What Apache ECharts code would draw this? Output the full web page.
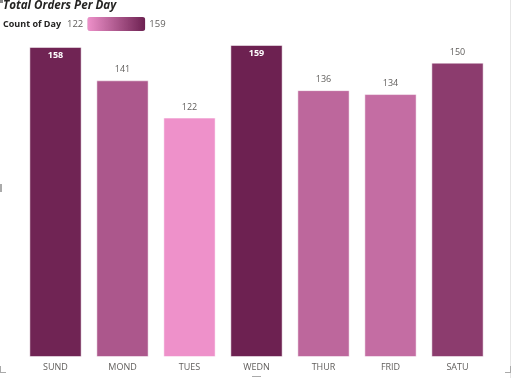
<!DOCTYPE html>
<html>
<head>
<meta charset="utf-8">
<script src="https://cdn.jsdelivr.net/npm/echarts@6/dist/echarts.min.js"></script>
<style>
  html, body { margin: 0; padding: 0; background: #fff; }
  #main { width: 515px; height: 378px; }
</style>
</head>
<body>
<div id="main"></div>
<script>
const days = ["SUND", "MOND", "TUES", "WEDN", "THUR", "FRID", "SATU"];
const counts = [158, 141, 122, 159, 136, 134, 150];
const colorRange = ["#EE91CA", "#6D2151"];

let mychart = echarts.init(document.getElementById("main"));
let minVal = Math.min(...counts);
let maxVal = Math.max(...counts);

let option = {
  animation: false,
  title: {
    text: "Total Orders Per Day",
    left: 3,
    top: 0,
    padding: 0,
    textStyle: {
      fontSize: 11.6,
      fontWeight: "bold",
      fontStyle: "italic",
      color: "#252423",
      fontFamily: "Open Sans"
    }
  },
  graphic: [
    {
      type: "text",
      left: 3,
      top: 20,
      style: {
        text: "Count of Day",
        font: "bold 9px 'Open Sans'",
        fill: "#252423"
      }
    },
    { type: "rect", shape: { x: 510, y: 0, width: 1, height: 378 }, style: { fill: "#e6e6e6" } },
    { type: "rect", shape: { x: 0, y: 0, width: 3, height: 3 }, style: { fill: "#888" } },
    { type: "rect", shape: { x: 0, y: 184, width: 2, height: 8 }, style: { fill: "#aaa" } },
    { type: "rect", shape: { x: 0, y: 372, width: 6, height: 1 }, style: { fill: "#aaa" } },
    { type: "rect", shape: { x: 0, y: 366, width: 1, height: 7 }, style: { fill: "#aaa" } },
    { type: "rect", shape: { x: 252, y: 376, width: 9, height: 1 }, style: { fill: "#aaa" } },
    { type: "rect", shape: { x: 505, y: 372, width: 6, height: 1 }, style: { fill: "#aaa" } },
    { type: "rect", shape: { x: 510, y: 366, width: 1, height: 7 }, style: { fill: "#aaa" } }
  ],
  visualMap: {
    type: "continuous",
    min: minVal,
    max: maxVal,
    orient: "horizontal",
    left: 67,
    top: 17,
    padding: 0,
    itemWidth: 14,
    itemHeight: 58,
    calculable: false,
    text: [String(maxVal), String(minVal)],
    textGap: 4,
    textStyle: { fontSize: 9.5, color: "#605E5C", fontFamily: "Open Sans" },
    inRange: { color: colorRange },
    seriesIndex: 0
  },
  grid: {
    left: 22,
    right: 24,
    top: 45,
    bottom: 21
  },
  xAxis: {
    type: "category",
    data: days,
    axisLine: { show: false },
    axisTick: { show: false },
    axisLabel: {
      fontSize: 9,
      color: "#605E5C",
      fontFamily: "Open Sans",
      margin: 6
    }
  },
  yAxis: {
    type: "value",
    min: 0,
    max: maxVal,
    show: false,
    splitLine: { show: false }
  },
  series: [
    {
      type: "bar",
      barCategoryGap: "22%",
      data: counts.map(function (v) {
        let inside = v >= 155;
        return {
          value: v,
          label: {
            show: true,
            position: inside ? "insideTop" : "top",
            distance: inside ? 4 : 6,
            color: inside ? "#ffffff" : "#605E5C",
            fontWeight: inside ? "bold" : "normal",
            fontSize: 9,
            fontFamily: "Open Sans"
          }
        };
      }),
      itemStyle: {
        borderColor: "rgba(255,255,255,0.5)",
        borderWidth: 1
      }
    }
  ]
};
mychart.setOption(option);
</script>
</body>
</html>
